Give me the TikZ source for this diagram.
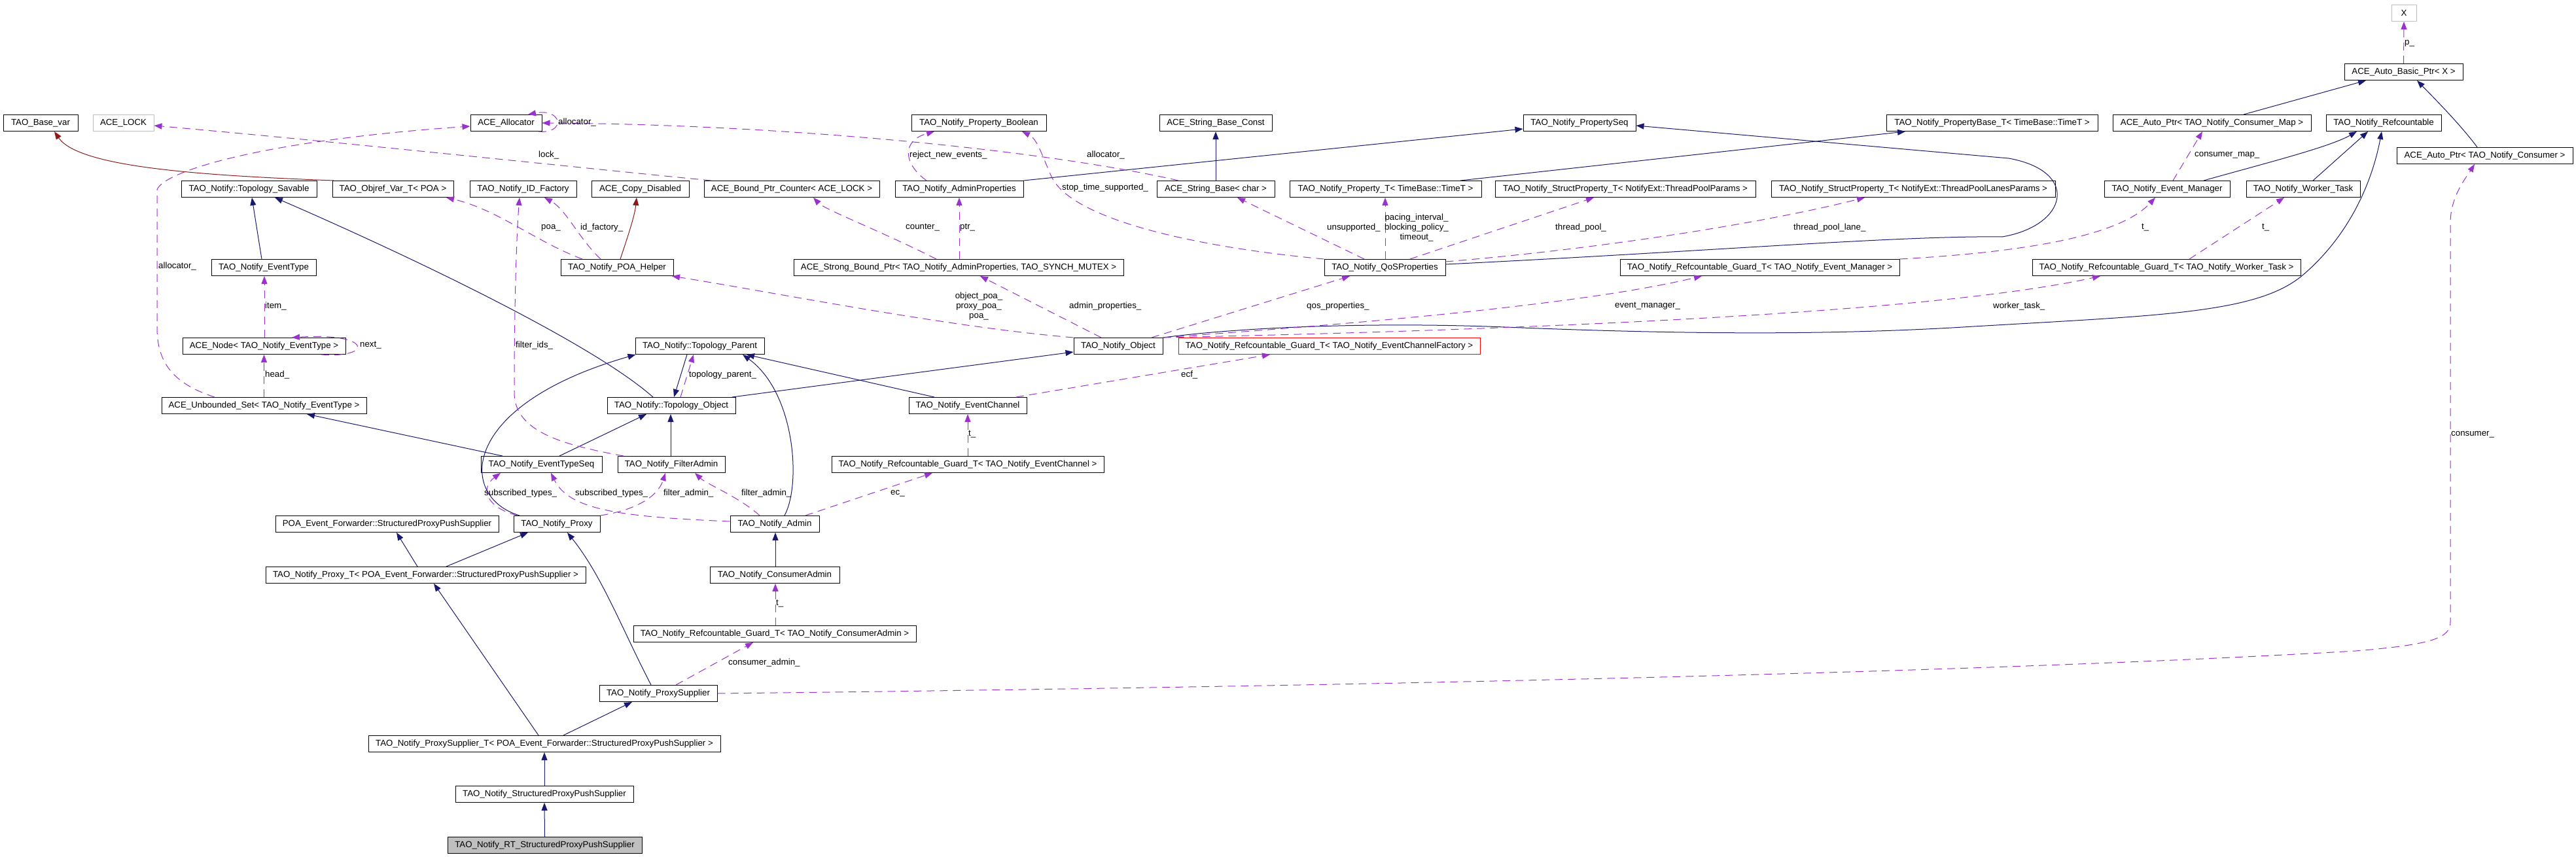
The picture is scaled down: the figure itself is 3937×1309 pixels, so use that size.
\documentclass[tikz,border=0pt]{standalone}
\usepackage{fontspec}
\newfontfamily\dfont{Liberation Sans}
\usetikzlibrary{arrows.meta}
\definecolor{navyc}{RGB}{25,25,112}
\definecolor{usec}{RGB}{154,50,205}
\definecolor{redc}{RGB}{139,26,26}
\definecolor{grayb}{RGB}{191,191,191}
\begin{document}
\begin{tikzpicture}[x=1pt,y=-1pt,
  cls/.style={draw=black, line width=1pt, minimum height=25pt, inner sep=0pt, font=\dfont\fontsize{13.3}{15}\selectfont},
  lbl/.style={inner sep=0pt, font=\dfont\fontsize{13.3}{15}\selectfont, anchor=west},
  inh/.style={draw=navyc, line width=1pt, -{Triangle[length=12pt,width=9pt]}},
  inhr/.style={draw=redc, line width=1pt, -{Triangle[length=12pt,width=9pt]}},
  use/.style={draw=usec, line width=1pt, dash pattern=on 12pt off 8pt, -{Triangle[length=12pt,width=9pt]}}]
\fill[white] (0,0) rectangle (3937,1309);
\useasboundingbox (0,0) rectangle (3937,1309);
% ---------- nodes ----------
\node[cls, minimum width=38pt, draw=grayb] (X) at (3674,20) {X};
\node[cls, minimum width=181pt] (autobasic) at (3673.5,110) {ACE\_Auto\_Basic\_Ptr< X >};
\node[cls, minimum width=114pt] (basevar) at (62,188) {TAO\_Base\_var};
\node[cls, minimum width=93pt, draw=grayb] (acelock) at (188.5,188) {ACE\_LOCK};
\node[cls, minimum width=109pt] (alloc) at (773.5,188) {ACE\_Allocator};
\node[cls, minimum width=206pt] (propbool) at (1496,188) {TAO\_Notify\_Property\_Boolean};
\node[cls, minimum width=172pt] (strconst) at (1858,188) {ACE\_String\_Base\_Const};
\node[cls, minimum width=172pt] (propseq) at (2414,188) {TAO\_Notify\_PropertySeq};
\node[cls, minimum width=323pt] (propbase) at (3044.5,188) {TAO\_Notify\_PropertyBase\_T< TimeBase::TimeT >};
\node[cls, minimum width=303pt] (autoptrmap) at (3380.5,188) {ACE\_Auto\_Ptr< TAO\_Notify\_Consumer\_Map >};
\node[cls, minimum width=176pt] (refc) at (3643,188) {TAO\_Notify\_Refcountable};
\node[cls, minimum width=269pt] (autoptrcons) at (3797.5,238) {ACE\_Auto\_Ptr< TAO\_Notify\_Consumer >};
\node[cls, minimum width=207pt] (savable) at (380.5,289) {TAO\_Notify::Topology\_Savable};
\node[cls, minimum width=185pt] (objref) at (600.5,289) {TAO\_Objref\_Var\_T< POA >};
\node[cls, minimum width=163pt] (idfact) at (799.5,289) {TAO\_Notify\_ID\_Factory};
\node[cls, minimum width=149pt] (copydis) at (978.5,289) {ACE\_Copy\_Disabled};
\node[cls, minimum width=268pt] (boundctr) at (1210,289) {ACE\_Bound\_Ptr\_Counter< ACE\_LOCK >};
\node[cls, minimum width=196pt] (adminprops) at (1466,289) {TAO\_Notify\_AdminProperties};
\node[cls, minimum width=180pt] (strbase) at (1858,289) {ACE\_String\_Base< char >};
\node[cls, minimum width=293pt] (propT) at (2117.5,289) {TAO\_Notify\_Property\_T< TimeBase::TimeT >};
\node[cls, minimum width=398pt] (spTP) at (2484,289) {TAO\_Notify\_StructProperty\_T< NotifyExt::ThreadPoolParams >};
\node[cls, minimum width=434pt] (spTPL) at (2924,289) {TAO\_Notify\_StructProperty\_T< NotifyExt::ThreadPoolLanesParams >};
\node[cls, minimum width=192pt] (evmgr) at (3312,289) {TAO\_Notify\_Event\_Manager};
\node[cls, minimum width=174pt] (worker) at (3520,289) {TAO\_Notify\_Worker\_Task};
\node[cls, minimum width=160pt] (evtype) at (403,409) {TAO\_Notify\_EventType};
\node[cls, minimum width=172pt] (poahelper) at (943,409) {TAO\_Notify\_POA\_Helper};
\node[cls, minimum width=504pt] (strong) at (1465,409) {ACE\_Strong\_Bound\_Ptr< TAO\_Notify\_AdminProperties, TAO\_SYNCH\_MUTEX >};
\node[cls, minimum width=185pt] (qos) at (2116.5,409) {TAO\_Notify\_QoSProperties};
\node[cls, minimum width=427pt] (gEM) at (2689.5,409) {TAO\_Notify\_Refcountable\_Guard\_T< TAO\_Notify\_Event\_Manager >};
\node[cls, minimum width=410pt] (gWT) at (3311,409) {TAO\_Notify\_Refcountable\_Guard\_T< TAO\_Notify\_Worker\_Task >};
\node[cls, minimum width=249pt] (acenode) at (403.5,529) {ACE\_Node< TAO\_Notify\_EventType >};
\node[cls, minimum width=197pt] (tparent) at (1069.5,529) {TAO\_Notify::Topology\_Parent};
\node[cls, minimum width=136pt] (nobj) at (1709,529) {TAO\_Notify\_Object};
\node[cls, minimum width=461pt, draw=red] (gECF) at (2031.5,529) {TAO\_Notify\_Refcountable\_Guard\_T< TAO\_Notify\_EventChannelFactory >};
\node[cls, minimum width=313pt] (uset) at (403.5,620) {ACE\_Unbounded\_Set< TAO\_Notify\_EventType >};
\node[cls, minimum width=196pt] (tobj) at (1026,620) {TAO\_Notify::Topology\_Object};
\node[cls, minimum width=180pt] (evchan) at (1479,620) {TAO\_Notify\_EventChannel};
\node[cls, minimum width=185pt] (etseq) at (827.5,710) {TAO\_Notify\_EventTypeSeq};
\node[cls, minimum width=164pt] (filtadm) at (1026,710) {TAO\_Notify\_FilterAdmin};
\node[cls, minimum width=416pt] (gEC) at (1479,710) {TAO\_Notify\_Refcountable\_Guard\_T< TAO\_Notify\_EventChannel >};
\node[cls, minimum width=341pt] (poaefw) at (591.5,801) {POA\_Event\_Forwarder::StructuredProxyPushSupplier};
\node[cls, minimum width=132pt] (proxy) at (851,801) {TAO\_Notify\_Proxy};
\node[cls, minimum width=136pt] (admin) at (1184,801) {TAO\_Notify\_Admin};
\node[cls, minimum width=489pt] (proxyT) at (650.5,879) {TAO\_Notify\_Proxy\_T< POA\_Event\_Forwarder::StructuredProxyPushSupplier >};
\node[cls, minimum width=198pt] (cadmin) at (1184,879) {TAO\_Notify\_ConsumerAdmin};
\node[cls, minimum width=432pt] (gCA) at (1184,969) {TAO\_Notify\_Refcountable\_Guard\_T< TAO\_Notify\_ConsumerAdmin >};
\node[cls, minimum width=180pt] (psup) at (1006,1060) {TAO\_Notify\_ProxySupplier};
\node[cls, minimum width=538pt] (psupT) at (832,1137) {TAO\_Notify\_ProxySupplier\_T< POA\_Event\_Forwarder::StructuredProxyPushSupplier >};
\node[cls, minimum width=272pt] (spps) at (832,1214) {TAO\_Notify\_StructuredProxyPushSupplier};
\node[cls, minimum width=297pt, fill=grayb] (rt) at (832.5,1292) {TAO\_Notify\_RT\_StructuredProxyPushSupplier};
% ---------- inheritance edges ----------
\draw[inh] ([xshift=-3pt]evtype.north) -- ([xshift=4.5pt]savable.south);
\draw[inh] ([xshift=-28pt]tobj.north) .. controls (900,520) and (600,380) .. ([xshift=39.5pt]savable.south);
\draw[inhr] ([xshift=-90.5pt]objref.north) .. controls (300,268) and (120,255) .. ([xshift=21pt]basevar.south);
\draw[inhr] ([xshift=5pt]poahelper.north) .. controls (960,360) and (970,330) .. ([xshift=-5.5pt]copydis.south);
\draw[inh] ([xshift=-59.5pt]etseq.north) -- ([xshift=65.5pt]uset.south);
\draw[inh] ([xshift=27.5pt]etseq.north) -- ([xshift=-38pt]tobj.south);
\draw[inh] ([xshift=-1pt]filtadm.north) -- ([xshift=-1pt]tobj.south);
\draw[inh] ([xshift=-19.5pt]tparent.south) -- ([xshift=4pt]tobj.north);
\draw[inh] ([xshift=93pt]tobj.north) -- ([yshift=-9pt]nobj.west);
\draw[inh] ([xshift=-51pt]evchan.north) -- ([xshift=71.5pt]tparent.south);
\draw[inh] ([xshift=15pt]admin.north) .. controls (1225,740) and (1215,600) .. ([xshift=65.5pt]tparent.south);
\draw[inh] ([xshift=-57pt]proxy.north) .. controls (700,760) and (700,620) .. ([xshift=-98pt]tparent.south);
\draw[inh] ([yshift=5pt]qos.east) .. controls (2600,385) and (2900,360) .. (3060,362) .. controls (3160,345) and (3180,262) .. (3070,242) -- ([yshift=-4pt]propseq.east);
\draw[inh] (adminprops.north east) -- ([yshift=-9pt]propseq.west);
\draw[inh] (strbase.north) -- (strconst.south);
\draw[inh] ([xshift=114.5pt]propT.north) -- ([xshift=-132.5pt]propbase.south);
\draw[inh] ([xshift=48.5pt]autoptrmap.north) -- ([xshift=-57.5pt]autobasic.south);
\draw[inh] ([xshift=-11.5pt]autoptrcons.north) .. controls (3760,190) and (3720,150) .. ([xshift=20.5pt]autobasic.south);
\draw[inh] ([xshift=56pt]evmgr.north) .. controls (3460,250) and (3560,225) .. ([xshift=-41pt]refc.south);
\draw[inh] ([xshift=15pt]worker.north) -- ([xshift=-24pt]refc.south);
\draw[inh] (nobj.north east) .. controls (1900,500) and (2100,492) .. (2300,500) .. controls (2500,508) and (2750,515) .. (3000,500) .. controls (3300,482) and (3450,480) .. (3520,420) .. controls (3590,360) and (3625,280) .. ([xshift=-3pt]refc.south);
\draw[inh] ([xshift=-12.5pt]proxyT.north) -- ([xshift=14.5pt]poaefw.south);
\draw[inh] ([xshift=31.5pt]proxyT.north) -- ([xshift=-44pt]proxy.south);
\draw[inh] ([xshift=-11pt]psup.north) .. controls (950,960) and (920,880) .. ([xshift=16pt]proxy.south);
\draw[inh] ([xshift=-9pt]psupT.north) -- ([xshift=12.5pt]proxyT.south);
\draw[inh] ([xshift=29pt]psupT.north) -- ([xshift=-40pt]psup.south);
\draw[inh] (spps.north) -- (psupT.south);
\draw[inh] (rt.north) -- (spps.south);
\draw[inh] ([xshift=1pt]cadmin.north) -- ([xshift=1pt]admin.south);
% ---------- usage edges ----------
\draw[use] ([xshift=-57pt]strbase.north) .. controls (1600,230) and (1200,190) .. (alloc.east);
\draw[use] ([xshift=49.5pt]alloc.south) .. controls (865,205) and (860,165) .. ([xshift=33.5pt]alloc.north);
\draw[use] ([xshift=-123pt]boundctr.north) .. controls (900,258) and (500,215) .. ([yshift=-4pt]acelock.east);
\draw[use] ([xshift=-75.5pt]uset.north) .. controls (260,585) and (240,550) .. (240,500) -- (240,290) .. controls (250,262) and (400,215) .. ([yshift=-5pt]alloc.west);
\draw[use] ([xshift=0.5pt]acenode.north) -- ([xshift=1pt]evtype.south);
\draw[use] ([xshift=87.5pt]acenode.south) .. controls (570,548) and (570,508) .. ([xshift=42.5pt]acenode.north);
\draw[use] (uset.north) -- (acenode.south);
\draw[use] ([xshift=-53pt]poahelper.north) .. controls (820,370) and (760,320) .. ([xshift=81.5pt]objref.south);
\draw[use] ([xshift=-25pt]poahelper.north) .. controls (885,365) and (865,320) .. ([xshift=32.5pt]idfact.south);
\draw[use] ([xshift=-73pt]filtadm.north) .. controls (860,680) and (786,660) .. (786,600) .. controls (786,450) and (790,350) .. ([xshift=-5.5pt]idfact.south);
\draw[use] ([xshift=-34pt]strong.north) .. controls (1350,355) and (1260,320) .. ([xshift=33pt]boundctr.south);
\draw[use] ([xshift=1pt]strong.north) -- (adminprops.south);
\draw[use] ([xshift=-50pt]adminprops.north) .. controls (1380,250) and (1378,215) .. ([xshift=-68pt]propbool.south);
\draw[use] (qos.north west) .. controls (1850,380) and (1640,340) .. (1607,270) .. controls (1592,236) and (1585,212) .. ([xshift=66pt]propbool.south);
\draw[use] ([xshift=-31.5pt]qos.north) -- ([xshift=33pt]strbase.south);
\draw[use] ([xshift=0.5pt]qos.north) -- ([xshift=-0.5pt]propT.south);
\draw[use] ([xshift=38.5pt]qos.north) -- ([xshift=-48pt]spTP.south);
\draw[use] ([yshift=9pt]qos.east) .. controls (2450,380) and (2700,340) .. ([xshift=-74pt]spTPL.south);
\draw[use] (nobj.north west) .. controls (1450,500) and (1200,450) .. ([xshift=84pt]poahelper.south);
\draw[use] ([xshift=-26pt]nobj.north) -- ([xshift=33pt]strong.south);
\draw[use] ([xshift=51pt]nobj.north) -- ([xshift=-53.5pt]qos.south);
\draw[use] (nobj.north east) .. controls (2000,500) and (2400,470) .. ([xshift=-88.5pt]gEM.south);
\draw[use] (nobj.north east) .. controls (2300,505) and (2950,480) .. ([xshift=-101pt]gWT.south);
\draw[use] (gEM.north east) .. controls (3100,385) and (3240,360) .. ([xshift=-18pt]evmgr.south);
\draw[use] ([xshift=35pt]gWT.north) -- ([xshift=-29pt]worker.south);
\draw[use] ([xshift=9pt]evmgr.north) -- ([xshift=-14.5pt]autoptrmap.south);
\draw[use] (autobasic.north) -- (X.south);
\draw[use] (psup.east) .. controls (2000,1050) and (3000,1030) .. (3600,995) .. controls (3720,985) and (3745,975) .. (3745,950) -- (3745,340) .. controls (3745,300) and (3770,270) .. ([xshift=-15.5pt]autoptrcons.south);
\draw[use] ([xshift=74pt]evchan.north) -- ([xshift=-90.5pt]gECF.south);
\draw[use] (gEC.north) -- (evchan.south);
\draw[use] ([xshift=47pt]admin.north) -- ([xshift=-54pt]gEC.south);
\draw[use] ([xshift=-60pt]proxy.north) .. controls (740,775) and (735,745) .. ([xshift=-62.5pt]etseq.south);
\draw[use] ([yshift=4pt]admin.west) .. controls (950,790) and (870,780) .. ([xshift=14.5pt]etseq.south);
\draw[use] (proxy.north east) .. controls (970,780) and (1005,760) .. ([xshift=-9pt]filtadm.south);
\draw[use] ([xshift=-23pt]admin.north) .. controls (1130,760) and (1080,740) .. ([xshift=36pt]filtadm.south);
\draw[use] ([xshift=1pt]gCA.north) -- ([xshift=1pt]cadmin.south);
\draw[use] ([xshift=27pt]psup.north) -- ([xshift=-33pt]gCA.south);
\draw[use] ([xshift=14pt]tobj.north) -- ([xshift=-9.5pt]tparent.south);
% ---------- labels ----------
\node[lbl] (l1) at (853,187) {allocator\_};
\node[lbl] (l2) at (823,237) {lock\_};
\node[lbl] (l3) at (242,407) {allocator\_};
\node[lbl] (l4) at (405,468) {item\_};
\node[lbl] (l5) at (550,528) {next\_};
\node[lbl] (l6) at (405,573) {head\_};
\node[lbl] (l7) at (827,348) {poa\_};
\node[lbl] (l8) at (887,348) {id\_factory\_};
\node[lbl] (l9) at (788,528) {filter\_ids\_};
\node[lbl] (l10) at (1390,237) {reject\_new\_events\_};
\node[lbl] (l11) at (1661,237) {allocator\_};
\node[lbl] (l12) at (1623,287) {stop\_time\_supported\_};
\node[lbl] (l13) at (1384,348) {counter\_};
\node[lbl] (l14) at (1467,348) {ptr\_};
\node[lbl] (l15) at (2028,348) {unsupported\_};
\node[lbl, anchor=center, align=center] (l16) at (2165,348) {pacing\_interval\_\\blocking\_policy\_\\timeout\_};
\node[lbl] (l17) at (2377,348) {thread\_pool\_};
\node[lbl] (l18) at (2741,348) {thread\_pool\_lane\_};
\node[lbl] (l19) at (3675,66) {p\_};
\node[lbl] (l20) at (3354,237) {consumer\_map\_};
\node[lbl] (l21) at (3273,348) {t\_};
\node[lbl] (l22) at (3457,348) {t\_};
\node[lbl, anchor=center, align=center] (l23) at (1496,468) {object\_poa\_\\proxy\_poa\_\\poa\_};
\node[lbl] (l24) at (1634,468) {admin\_properties\_};
\node[lbl] (l25) at (1997,468) {qos\_properties\_};
\node[lbl] (l26) at (2468,468) {event\_manager\_};
\node[lbl] (l27) at (3046,468) {worker\_task\_};
\node[lbl] (l28) at (1053,573) {topology\_parent\_};
\node[lbl] (l29) at (1805,573) {ecf\_};
\node[lbl] (l30) at (1480,664) {t\_};
\node[lbl] (l31) at (1014,754) {filter\_admin\_};
\node[lbl] (l32) at (1133,754) {filter\_admin\_};
\node[lbl] (l33) at (1361,754) {ec\_};
\node[lbl] (l34) at (740,754) {subscribed\_types\_};
\node[lbl] (l35) at (879,754) {subscribed\_types\_};
\node[lbl] (l36) at (1186,923) {t\_};
\node[lbl] (l37) at (1113,1013) {consumer\_admin\_};
\node[lbl] (l38) at (3746,664) {consumer\_};
\end{tikzpicture}
\end{document}
